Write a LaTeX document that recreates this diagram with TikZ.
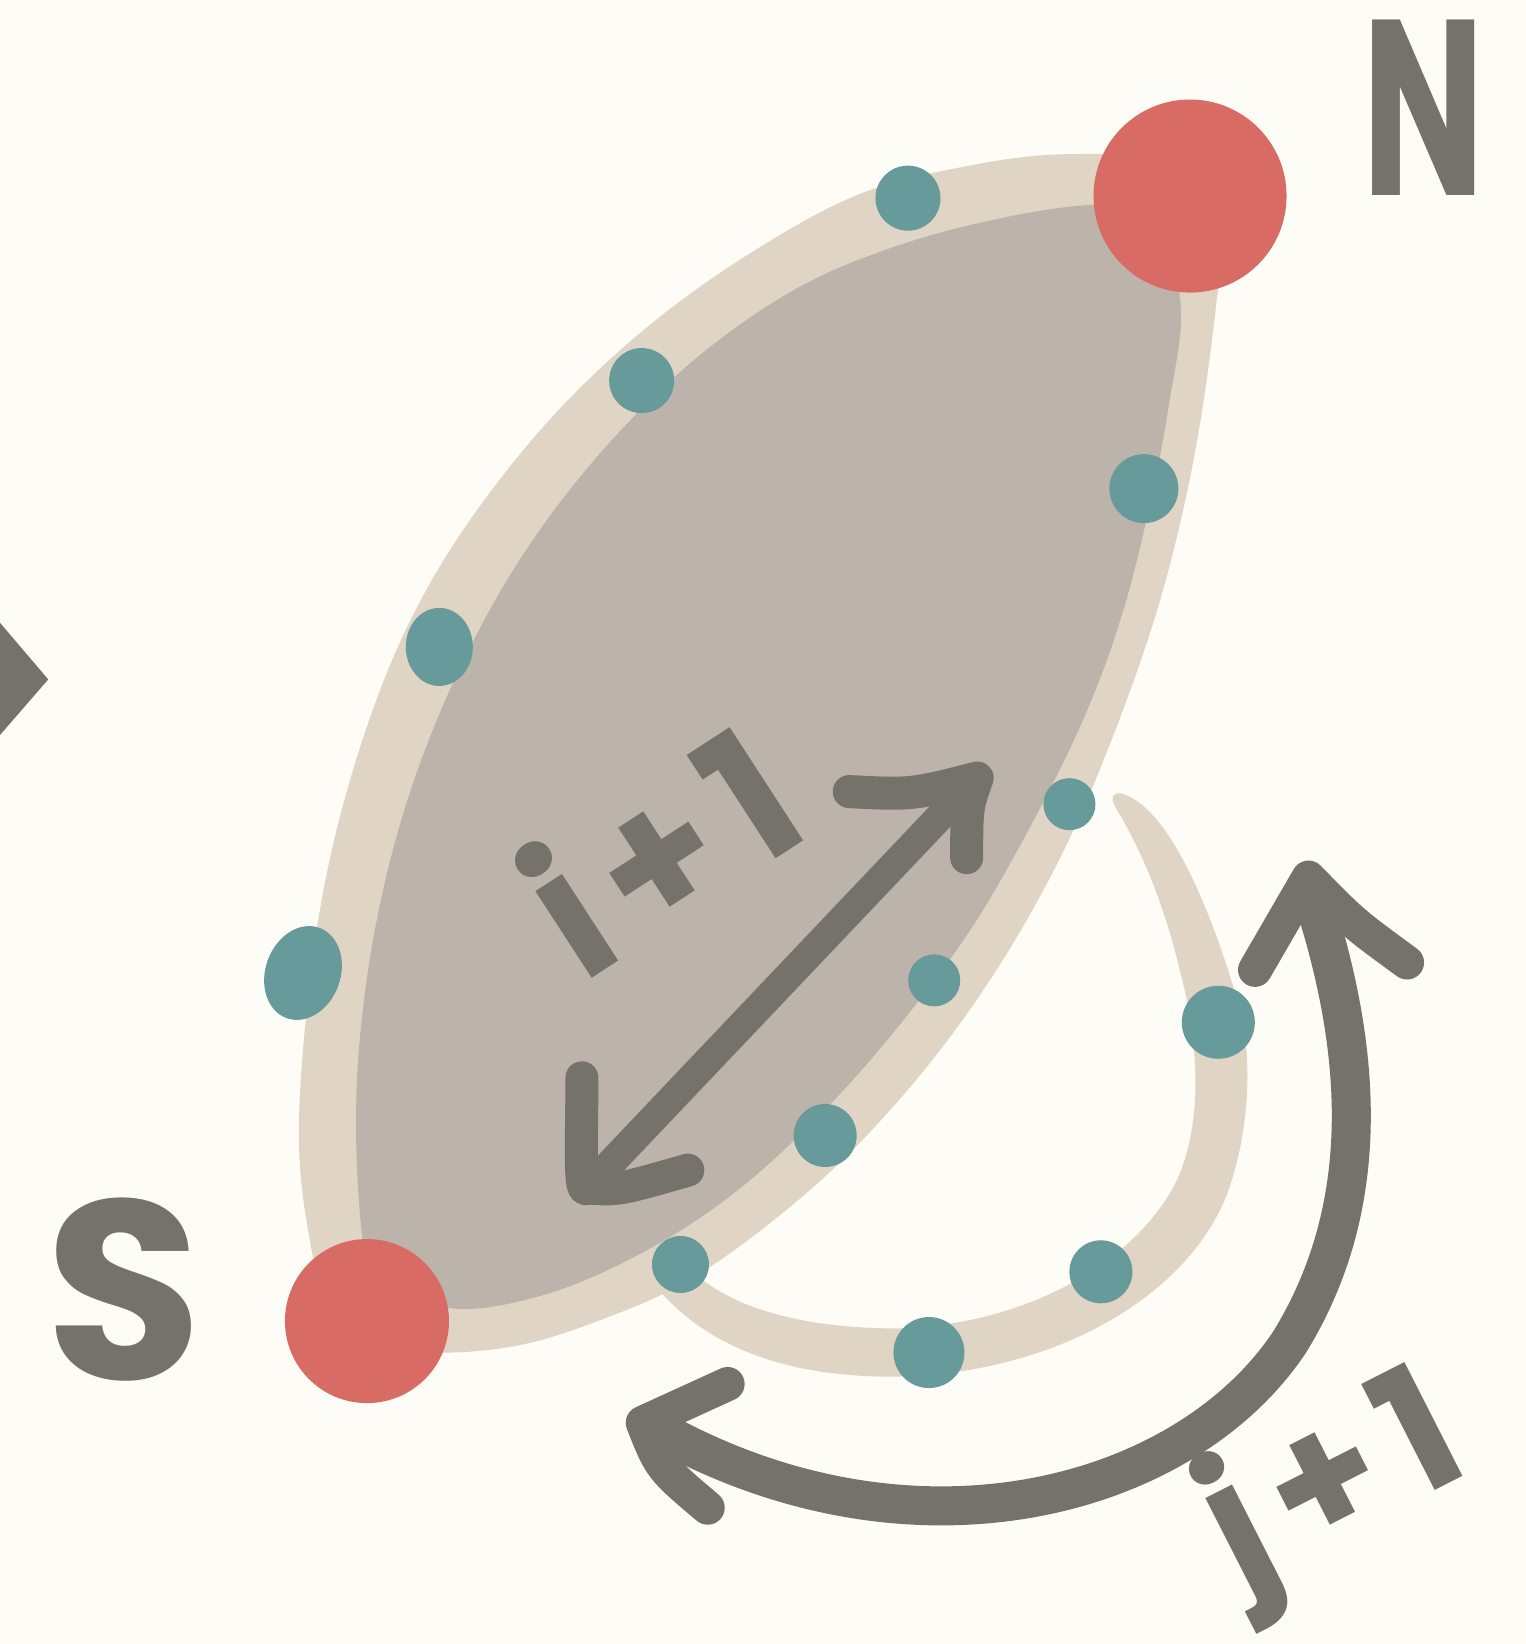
\documentclass[tikz,border=0pt]{standalone}
\usepackage{fontspec}
\setmainfont{Poppins}
\usetikzlibrary{shapes.geometric}
\definecolor{bg}{RGB}{254,252,247}
\definecolor{beige}{RGB}{224,213,196}
\definecolor{lensc}{RGB}{188,179,170}
\definecolor{ink}{RGB}{117,113,107}
\definecolor{redc}{RGB}{216,108,100}
\definecolor{tealc}{RGB}{103,154,154}
\tikzset{
  tealdot/.style={circle,fill=tealc,inner sep=0pt,outer sep=0pt},
  tealblob/.style={ellipse,fill=tealc,inner sep=0pt,outer sep=0pt},
  reddot/.style={circle,fill=redc,inner sep=0pt,outer sep=0pt},
  inkline/.style={draw=ink,line cap=round,line join=round},
  label/.style={text=ink,inner sep=0pt,font=\bfseries}
}
\begin{document}
\begin{tikzpicture}[x=1.0481pt,y=-1.0481pt]
\useasboundingbox (0,0) rectangle (1455,1568);
\fill[bg] (0,0) rectangle (1455,1568);
% outer beige lens
\fill[beige] plot[smooth cycle,tension=0.6] coordinates {
 (1020,147) (930,157) (820,185) (710,245) (610,318) (520,405) (440,508)
 (385,605) (345,708) (314,822) (295,940) (285,1080) (295,1180) (315,1250)
 (360,1285) (430,1290) (500,1282) (570,1260) (650,1225) (730,1170)
 (810,1100) (890,1010) (960,910) (1020,800) (1070,680) (1110,560)
 (1140,430) (1160,290) (1165,200) (1110,155)};
% inner grey lens
\fill[lensc] plot[smooth cycle,tension=0.6] coordinates {
 (1045,195) (960,207) (860,233) (760,275) (660,345) (570,435) (495,535)
 (435,645) (388,765) (357,890) (341,1020) (342,1140) (355,1215) (395,1240)
 (455,1248) (540,1228) (630,1185) (710,1130) (790,1055) (860,975)
 (930,880) (995,765) (1040,670) (1072,580) (1097,480) (1115,385) (1126,290) (1100,200)};
% beige tail loop
\coordinate (tip) at (1070,757);
\coordinate (to1) at (1182,960);
\coordinate (to2) at (1170,1140);
\coordinate (to3) at (850,1313);
\coordinate (to4) at (628,1230);
\coordinate (ti4) at (660,1212);
\coordinate (ti3) at (850,1267);
\coordinate (ti2) at (1125,1120);
\coordinate (ti1) at (1132,954);
\coordinate (ti0) at (1064,770);
\fill[beige] (tip) .. controls (1110,768) and (1150,850) .. (to1)
  .. controls (1195,1010) and (1192,1080) .. (to2)
  .. controls (1130,1240) and (1000,1312) .. (to3)
  .. controls (760,1313) and (680,1290) .. (to4)
  -- (ti4) .. controls (700,1250) and (770,1266) .. (ti3)
  .. controls (980,1266) and (1090,1200) .. (ti2)
  .. controls (1145,1070) and (1143,1010) .. (ti1)
  .. controls (1118,890) and (1100,830) .. (ti0)
  .. controls (1058,760) and (1062,755) .. (tip) -- cycle;
% left edge chevron
\fill[ink] (0,594) -- (46,648) -- (0,701) -- cycle;
% teal dots
\node[tealdot,minimum size=65pt] (t1) at (866,189) {};
\node[tealdot,minimum size=65pt] (t2) at (612,363) {};
\node[tealdot,minimum size=69pt] (t3) at (1091,466) {};
\node[tealblob,minimum width=67pt,minimum height=78pt] (t4) at (419,617) {};
\node[tealblob,minimum width=75pt,minimum height=96pt,rotate=-20] (t5) at (289,928) {};
\node[tealdot,minimum size=52pt] (t6) at (1020,767) {};
\node[tealdot,minimum size=52pt] (t7) at (891,935) {};
\node[tealdot,minimum size=73pt] (t8) at (1162,975) {};
\node[tealdot,minimum size=63pt] (t9) at (787,1083) {};
\node[tealdot,minimum size=57pt] (t10) at (649,1206) {};
\node[tealdot,minimum size=63pt] (t11) at (1050,1213) {};
\node[tealdot,minimum size=71pt] (t12) at (886,1290) {};
% red poles
\node[reddot,minimum size=193pt] (north) at (1135,187) {};
\node[reddot,minimum size=164pt] (south) at (350,1260) {};
% double arrow
\coordinate (da1) at (582,1110);
\coordinate (da2) at (902,773);
\coordinate (dh1) at (810,755);
\coordinate (dh2) at (932,742);
\coordinate (dh3) at (922,818);
\coordinate (dl1) at (555,1028);
\coordinate (dl2) at (560,1133);
\coordinate (dl3) at (656,1116);
\draw[inkline,line width=29pt] (da1) -- (da2);
\draw[inkline,line width=33pt] (dh1) .. controls (870,758) .. (dh2) .. controls (922,770) .. (dh3);
\draw[inkline,line width=33pt] (dl1) .. controls (555,1090) and (552,1140) .. (dl2) .. controls (590,1135) .. (dl3);
% curved arrow
\coordinate (ca1) at (1250,850);
\coordinate (ca2) at (1230,1280);
\coordinate (ca3) at (625,1362);
\draw[inkline,line width=39pt] (ca1) .. controls (1300,1000) and (1310,1150) .. (ca2)
  .. controls (1130,1430) and (870,1500) .. (ca3);
\coordinate (ct1) at (1197,925);
\coordinate (ct2) at (1248,837);
\coordinate (ct3) at (1342,918);
\draw[inkline,line width=34pt] (ct1) -- (ct2) .. controls (1290,880) .. (ct3);
\coordinate (cb1) at (694,1320);
\coordinate (cb2) at (613,1357);
\coordinate (cb3) at (675,1438);
\draw[inkline,line width=34pt] (cb1) -- (cb2) .. controls (630,1400) .. (cb3);
% labels
\node[label,font=\bfseries\fontsize{250pt}{250pt}\selectfont,xscale=0.65] (lN) at (1358,103) {N};
\node[label,font=\bfseries\fontsize{255pt}{255pt}\selectfont] (lS) at (118,1230) {S};
\node[label,font=\bfseries\fontsize{185pt}{185pt}\selectfont\addfontfeature{LetterSpace=10},rotate=33] (li) at (628,808) {i+1};
\node[label,font=\bfseries\fontsize{175pt}{175pt}\selectfont\addfontfeature{LetterSpace=10},rotate=27] (lj) at (1274,1420) {j+1};
\end{tikzpicture}
\end{document}
